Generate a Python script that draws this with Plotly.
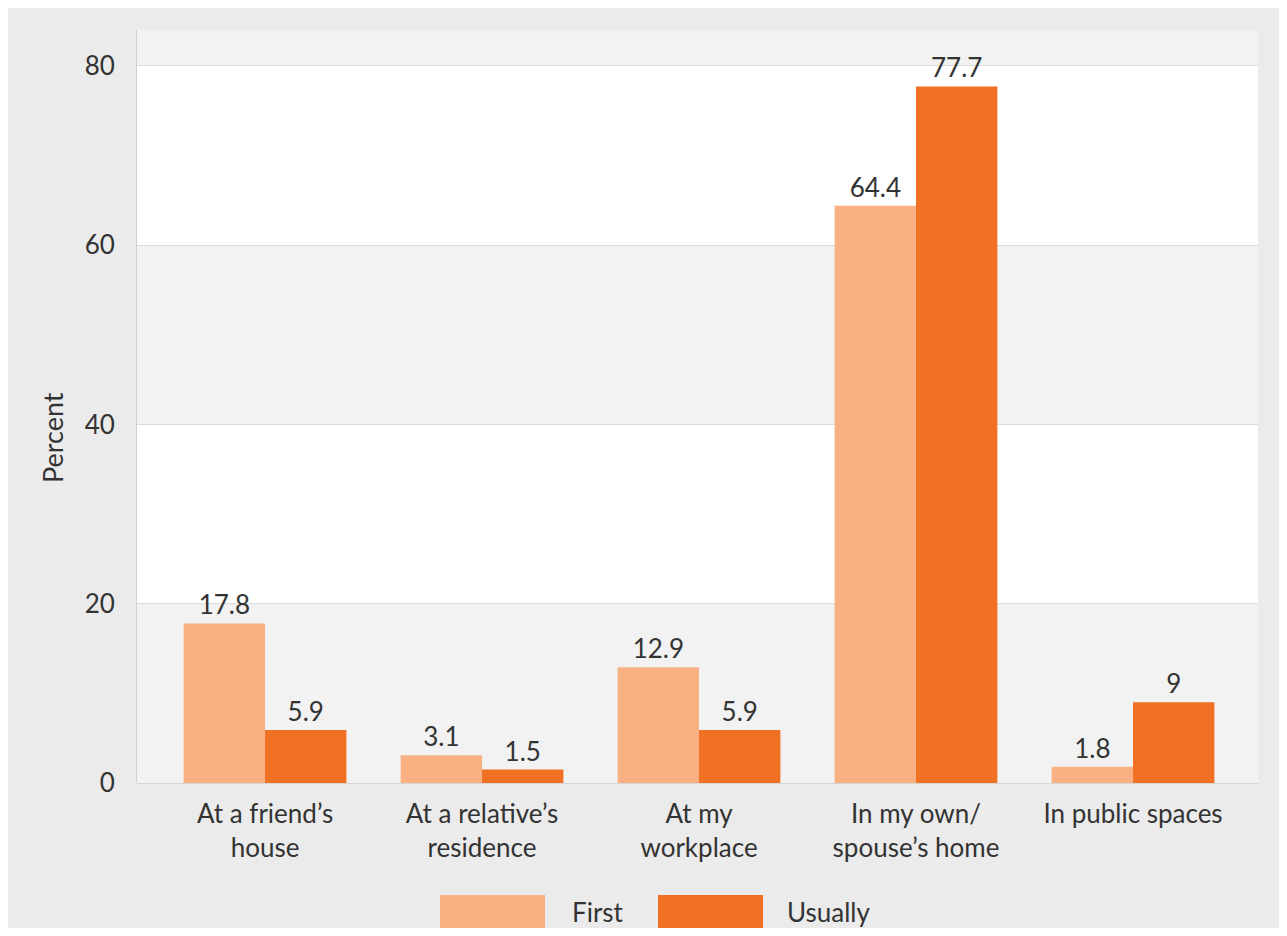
import plotly.graph_objects as go

categories = ["At a friend\u2019s<br>house", "At a relative\u2019s<br>residence", "At my<br>workplace",
              "In my own/<br>spouse\u2019s home", "In public spaces"]
first_vals = [17.8, 3.1, 12.9, 64.4, 1.8]
usually_vals = [5.9, 1.5, 5.9, 77.7, 9.0]
series_names = ["First", "Usually"]
y_ticks = [0, 20, 40, 60, 80]
y_title = "Percent"

c_first = "#f9b183"
c_usual = "#f07124"
txt = "#333333"
FONT = "Lato, 'Open Sans', sans-serif"
FS = 26

fig = go.Figure()
for name, vals, col in [(series_names[0], first_vals, c_first), (series_names[1], usually_vals, c_usual)]:
    fig.add_trace(go.Bar(
        x=list(range(len(categories))), y=vals, name=name,
        marker=dict(color=col, line=dict(width=0)),
        text=[f"{v:g}" for v in vals], textposition="outside",
        textfont=dict(size=FS, color=txt, family=FONT),
        cliponaxis=False, showlegend=False,
    ))

shapes = []
bands = [(0, 20, "#f2f2f2"), (20, 40, "#ffffff"), (40, 60, "#f2f2f2"), (60, 80, "#ffffff"), (80, 84, "#f2f2f2")]
for y0, y1, col in bands:
    shapes.append(dict(type="rect", xref="paper", yref="y", x0=0, x1=1, y0=y0, y1=y1,
                       fillcolor=col, line=dict(width=0), layer="below"))

# page -> paper coordinate helpers (figure drawn at page offset 8px)
L, T, PW, PH = 137, 30, 1121, 753
def px2x(px):
    return (px - L) / PW
def py2y(py):
    return (T + PH - py) / PH

annotations = []
for (x0, x1, tx), name, col in [((440, 545, 570), series_names[0], c_first), ((658, 763, 785), series_names[1], c_usual)]:
    shapes.append(dict(type="rect", xref="paper", yref="paper", x0=px2x(x0), x1=px2x(x1),
                       y0=py2y(928), y1=py2y(895), fillcolor=col, line=dict(width=0)))
    annotations.append(dict(xref="paper", yref="paper", x=px2x(tx), y=py2y(912), text=name,
                            showarrow=False, xanchor="left", yanchor="middle",
                            font=dict(size=FS, color=txt, family=FONT)))

# y-axis title placed like the reference (slightly below the plot centre)
annotations.append(dict(xref="paper", yref="paper", x=px2x(52), y=py2y(438), text=y_title,
                        textangle=-90, showarrow=False, xanchor="center", yanchor="middle",
                        font=dict(size=27, color=txt, family=FONT)))

fig.update_layout(
    width=1271, height=920,
    paper_bgcolor="#ebebeb", plot_bgcolor="#ffffff",
    margin=dict(l=129, r=21, t=22, b=145),
    barmode="group", bargap=0.25, bargroupgap=0,
    font=dict(family=FONT, size=FS, color=txt),
    shapes=shapes, annotations=annotations,
    showlegend=False,
    xaxis=dict(tickmode="array", tickvals=list(range(len(categories))), ticktext=categories,
               range=[-0.59, 4.576], showgrid=False, zeroline=False, showline=False,
               ticks="", ticklabelstandoff=13, tickfont=dict(size=FS, color=txt, family=FONT)),
    yaxis=dict(range=[0, 84], tickvals=y_ticks, showgrid=True, gridcolor="#dcdcdc", gridwidth=1,
               zeroline=True, zerolinecolor="#d5d5d5", zerolinewidth=1,
               showline=True, linecolor="#d0d0d0", linewidth=1,
               ticks="", ticklabelstandoff=16, tickfont=dict(size=FS, color=txt, family=FONT)),
)

fig.write_html("out.html")
